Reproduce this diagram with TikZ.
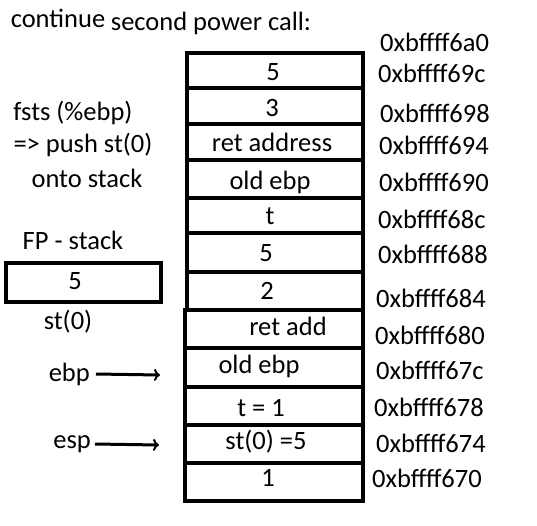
\documentclass[tikz,border=0pt]{standalone}
\usepackage{fontspec}
\setmainfont{Carlito}
\usetikzlibrary{arrows.meta}
\tikzset{
    txt/.style={inner sep=0pt, font=\fontsize{26.5}{30}\selectfont},
    addr/.style={txt, anchor=west},
    cell/.style={line width=3.2pt},
    pointer/.style={line width=3pt, -{To[length=6pt,width=12pt,line width=2pt]}}
}
\begin{document}
\begin{tikzpicture}[x=1pt, y=-1pt]
    \useasboundingbox (0,0) rectangle (537,525);

    % title
    \node[txt] (cont) at (58,18) {continue};
    \node[txt] (title) at (211,23) {second power call:};

    % stack column
    \draw[cell] (187,53) rectangle (363,310);
    \draw[cell] (185,310) rectangle (363,501);
    \foreach \y in {88,124,160,198,233,272}
        \draw[cell] (187,\y) -- (363,\y);
    \foreach \y in {348,387,425,463}
        \draw[cell] (185,\y) -- (363,\y);

    % cell contents
    \node[txt] (c1) at (273,72) {5};
    \node[txt] (c2) at (272,108) {3};
    \node[txt] (c3) at (272,142) {ret address};
    \node[txt] (c4) at (270,182) {old ebp};
    \node[txt] (c5) at (270,216) {t};
    \node[txt] (c6) at (266,253) {5};
    \node[txt] (c7) at (267,291) {2};
    \node[txt] (c8) at (288,326) {ret add};
    \node[txt] (c9) at (259,366) {old ebp};
    \node[txt] (c10) at (261,408) {t = 1};
    \node[txt] (c11) at (266,442) {st(0) =5};
    \node[txt] (c12) at (268,478) {1};

    % addresses
    \node[addr] (a0) at (380,42) {0xbffff6a0};
    \node[addr] (a1) at (378,73) {0xbffff69c};
    \node[addr] (a2) at (380,113) {0xbffff698};
    \node[addr] (a3) at (379,145) {0xbffff694};
    \node[addr] (a4) at (379,182) {0xbffff690};
    \node[addr] (a5) at (378,219) {0xbffff68c};
    \node[addr] (a6) at (378,254) {0xbffff688};
    \node[addr] (a7) at (376,298) {0xbffff684};
    \node[addr] (a8) at (375,335) {0xbffff680};
    \node[addr] (a9) at (376,370) {0xbffff67c};
    \node[addr] (a10) at (374,407) {0xbffff678};
    \node[addr] (a11) at (376,443) {0xbffff674};
    \node[addr] (a12) at (372,478) {0xbffff670};

    % notes on the left
    \node[txt] (n1) at (73,113) {fsts (\%ebp)};
    \node[txt] (n2) at (83,145) {=> push st(0)};
    \node[txt] (n3) at (87,178) {onto stack};

    % FP stack
    \node[txt] (fp) at (73,240) {FP - stack};
    \draw[cell] (6,263) rectangle (161,302);
    \node[txt] (fp0) at (75,281) {5};
    \node[txt] (st) at (68,322) {st(0)};

    % registers
    \node[txt, anchor=east] (ebp) at (90,374) {ebp};
    \node[txt, anchor=east] (esp) at (91,444) {esp};
    \coordinate (ebpto) at (160,375);
    \coordinate (espto) at (159,445);
    \draw[pointer] (ebp.east) ++(6,0) -- (ebpto);
    \draw[pointer] (esp.east) ++(4,0) -- (espto);
\end{tikzpicture}
\end{document}
